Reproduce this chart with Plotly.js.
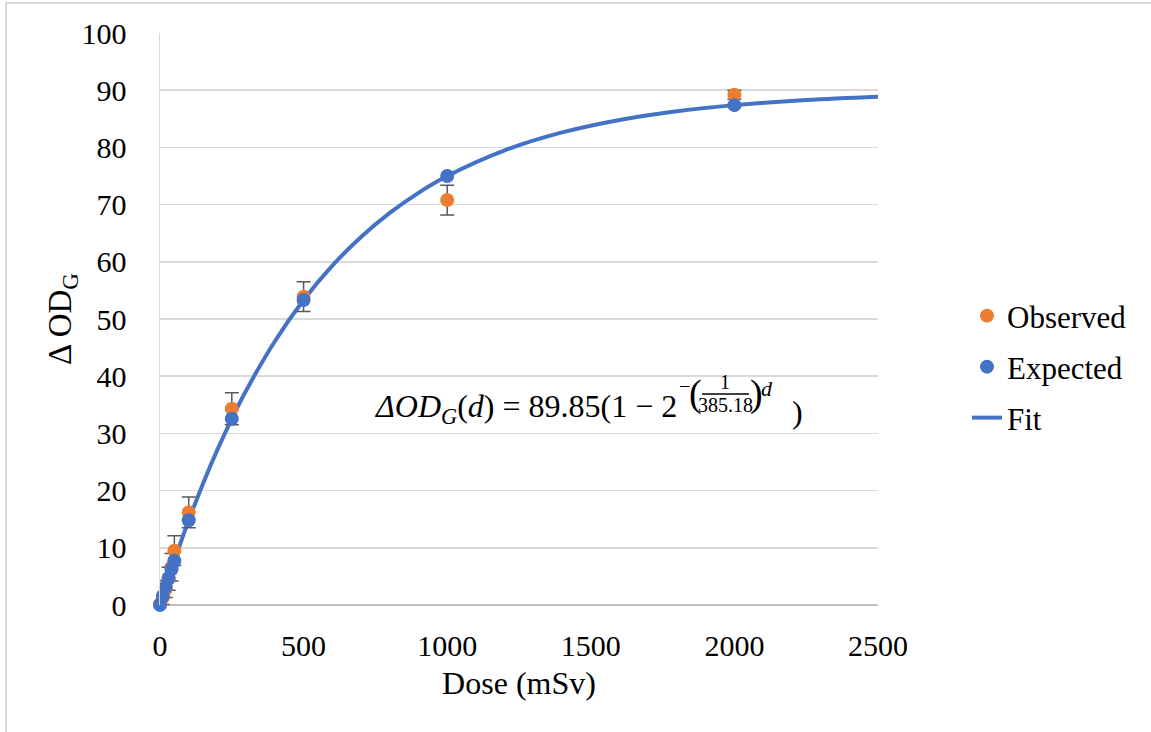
<!DOCTYPE html>
<html>
<head>
<meta charset="utf-8">
<script src="https://cdn.plot.ly/plotly-3.0.1.min.js"></script>
<style>
  html, body { margin: 0; padding: 0; background: #ffffff; }
  #wrap { position: relative; width: 1151px; height: 732px; }
  #chart { position: absolute; left: 0; top: 0; width: 1151px; height: 732px; }
  #frame { position: absolute; left: 5px; top: 2px; right: 0; bottom: 0;
           border-left: 2px solid #d9d9d9; border-top: 2px solid #d9d9d9; pointer-events: none; }
</style>
</head>
<body>
<div id="wrap">
  <div id="chart"></div>
  <div id="frame"></div>
</div>
<script>
// Dose values (mSv)
const doses = [0, 10, 20, 30, 40, 50, 100, 250, 500, 1000, 2000];
// Observed ΔOD_G and error bars
const observed = [0.2, 1.3, 2.8, 4.6, 6.6, 9.5, 16.2, 34.3, 53.9, 70.8, 89.2];
const observedErr = [0.6, 1.2, 1.5, 2.0, 2.4, 2.6, 2.7, 2.8, 2.6, 2.6, 0.8];
// Expected ΔOD_G
const expected = [0, 1.60, 3.18, 4.72, 6.24, 7.73, 14.81, 32.55, 53.31, 74.99, 87.39];
// Fit curve
const fitDose = [0, 25, 50, 75, 100, 150, 200, 250, 300, 400, 500, 600, 700, 800, 900, 1000, 1200, 1400, 1600, 1800, 2000, 2250, 2500];
const fitValue = [0, 3.95, 7.73, 11.35, 14.80, 21.26, 27.16, 32.55, 37.49, 46.11, 53.31, 59.33, 64.35, 68.55, 72.06, 74.99, 79.48, 82.62, 84.80, 86.33, 87.39, 88.28, 88.85];
// Axis ticks
const xTicks = [0, 500, 1000, 1500, 2000, 2500];
const yTicks = [0, 10, 20, 30, 40, 50, 60, 70, 80, 90, 100];

const FONT = "'Liberation Serif', 'Times New Roman', serif";
const ORANGE = '#ED7D31';
const BLUE = '#4472C4';

// plot area in pixels
const PL = 160, PR = 878, PT = 33, PB = 605;
const px = v => (v - PL) / (PR - PL);
const py = v => (PB - v) / (PB - PT);

const traces = [
  {
    x: fitDose, y: fitValue, mode: 'lines', name: 'Fit', type: 'scatter',
    line: { color: BLUE, width: 4, shape: 'spline' }, legend: 'legend3', cliponaxis: false
  },
  {
    x: doses, y: observed, mode: 'markers', name: 'Observed', type: 'scatter',
    marker: { color: ORANGE, size: 14 }, cliponaxis: false,
    error_y: { type: 'data', array: observedErr, visible: true, color: '#595959', thickness: 1.5, width: 7 },
    legend: 'legend'
  },
  {
    x: doses, y: expected, mode: 'markers', name: 'Expected', type: 'scatter',
    marker: { color: BLUE, size: 14 }, legend: 'legend2', cliponaxis: false
  }
];

const legBase = {
  xanchor: 'left', yanchor: 'middle',
  font: { family: FONT, size: 31, color: '#000000' },
  bgcolor: 'rgba(0,0,0,0)', borderwidth: 0
};

const eqFont = { family: FONT, size: 32, color: '#000000' };
const smFont = { family: FONT, size: 20, color: '#000000' };
const parFont = { family: FONT, size: 38, color: '#000000' };
function ann(x, y, text, font, xanchor) {
  return { xref: 'paper', yref: 'paper', x: px(x), y: py(y), xanchor: xanchor || 'center',
           yanchor: 'middle', showarrow: false, text: text, font: font, borderpad: 0 };
}

const layout = {
  width: 1151, height: 732,
  margin: { l: PL, r: 1151 - PR, t: PT, b: 732 - PB },
  paper_bgcolor: '#ffffff', plot_bgcolor: '#ffffff',
  font: { family: FONT, size: 30, color: '#000000' },
  showlegend: true,
  legend: Object.assign({ x: px(967), y: py(316) }, legBase),
  legend2: Object.assign({ x: px(967), y: py(367) }, legBase),
  legend3: Object.assign({ x: px(967), y: py(418) }, legBase),
  xaxis: {
    range: [0, 2500], tickvals: xTicks, ticktext: xTicks.map(String),
    showgrid: false, zeroline: false, showline: false,
    ticks: '', ticklabelstandoff: 20,
    tickfont: { family: FONT, size: 30 },
    title: { text: 'Dose (mSv)', font: { family: FONT, size: 32 }, standoff: 10 }
  },
  yaxis: {
    range: [0, 100], tickvals: yTicks, ticktext: yTicks.map(String),
    showgrid: true, gridcolor: '#d9d9d9', gridwidth: 1.5,
    zeroline: true, zerolinecolor: '#bfbfbf', zerolinewidth: 1.5,
    showline: true, linecolor: '#d9d9d9', linewidth: 1.5,
    ticks: '', ticklabelstandoff: 26,
    tickfont: { family: FONT, size: 30 },
    title: { text: 'Δ OD<sub>G</sub>', font: { family: FONT, size: 33 }, standoff: 0 }
  },
  shapes: [
    { type: 'line', xref: 'paper', yref: 'paper', x0: px(702), x1: px(749), y0: py(394), y1: py(394),
      line: { color: '#000000', width: 1.5 } }
  ],
  annotations: [
    ann(678, 408, '<i>ΔOD</i><sub><i>G</i></sub>(<i>d</i>) = 89.85(1 − 2', eqFont, 'right'),
    ann(684, 386, '−', smFont),
    ann(695, 393, '(', parFont),
    ann(725, 382, '1', smFont),
    ann(725, 405, '385.18', smFont),
    ann(756, 393, ')', parFont),
    ann(767, 388, '<i>d</i>', { family: FONT, size: 22, color: '#000000' }),
    ann(797, 412, ')', eqFont)
  ]
};

Plotly.newPlot('chart', traces, layout, { displayModeBar: false, staticPlot: true });
</script>
</body>
</html>
